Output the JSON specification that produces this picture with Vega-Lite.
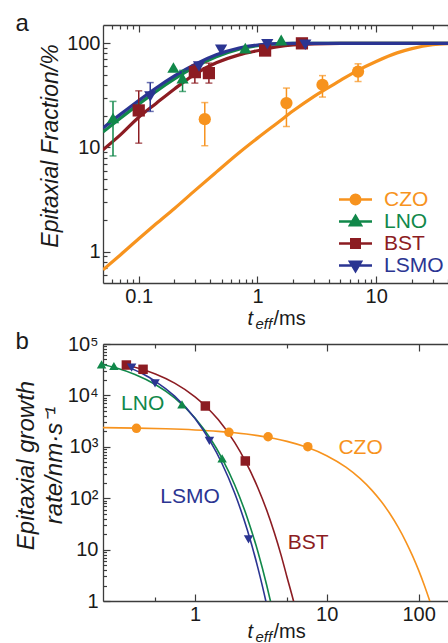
{
"$schema": "https://vega.github.io/schema/vega-lite/v6.json",
"background": "white",
"padding": {"left": 13, "top": 11, "right": 0, "bottom": 0},
"spacing": -2,
"config": {
  "view": {"stroke": null},
  "font": "Liberation Sans",
  "axis": {"grid": false, "domainColor": "#3c3c3c", "tickColor": "#3c3c3c", "domainWidth": 1.3, "tickWidth": 1.2, "labelFont": "Liberation Sans", "labelFontSize": 20, "labelColor": "#1a1a1a", "titleFont": "Liberation Sans", "titleColor": "#1a1a1a", "titleFontWeight": "normal", "labelOverlap": false, "labelFlush": false, "labelBound": false}
},
"resolve": {"scale": {"color": "independent", "shape": "independent"}, "legend": {"color": "independent", "shape": "independent"}},
"datasets": {
  "curvesA": [
    {"s":"CZO","t":0.05,"f":0.67},{"s":"CZO","t":0.07,"f":0.93},{"s":"CZO","t":0.1,"f":1.33},{"s":"CZO","t":0.14,"f":1.85},{"s":"CZO","t":0.2,"f":2.6},{"s":"CZO","t":0.3,"f":3.9},{"s":"CZO","t":0.45,"f":5.8},{"s":"CZO","t":0.7,"f":8.9},{"s":"CZO","t":1,"f":12.3},{"s":"CZO","t":1.5,"f":17.5},{"s":"CZO","t":2,"f":22.5},{"s":"CZO","t":3,"f":31},{"s":"CZO","t":5,"f":44},{"s":"CZO","t":7,"f":55},{"s":"CZO","t":10,"f":67},{"s":"CZO","t":15,"f":81},{"s":"CZO","t":20,"f":89},{"s":"CZO","t":30,"f":97},{"s":"CZO","t":42.7,"f":99.5},
    {"s":"BST","t":0.05,"f":9.5},{"s":"BST","t":0.07,"f":13.2},{"s":"BST","t":0.1,"f":19.5},{"s":"BST","t":0.14,"f":26.5},{"s":"BST","t":0.2,"f":36.5},{"s":"BST","t":0.3,"f":51},{"s":"BST","t":0.45,"f":65},{"s":"BST","t":0.7,"f":77.5},{"s":"BST","t":1,"f":85},{"s":"BST","t":1.5,"f":93},{"s":"BST","t":2,"f":96.5},{"s":"BST","t":3,"f":99},{"s":"BST","t":5,"f":99.9},{"s":"BST","t":10,"f":100},{"s":"BST","t":42.7,"f":100},
    {"s":"LNO","t":0.05,"f":14.1},{"s":"LNO","t":0.07,"f":19.1},{"s":"LNO","t":0.1,"f":26.1},{"s":"LNO","t":0.14,"f":34.6},{"s":"LNO","t":0.2,"f":45.5},{"s":"LNO","t":0.3,"f":59.7},{"s":"LNO","t":0.45,"f":74.4},{"s":"LNO","t":0.7,"f":88},{"s":"LNO","t":1,"f":95.2},{"s":"LNO","t":1.5,"f":98.9},{"s":"LNO","t":2,"f":99.8},{"s":"LNO","t":3,"f":100},{"s":"LNO","t":42.7,"f":100},
    {"s":"LSMO","t":0.05,"f":15.4},{"s":"LSMO","t":0.07,"f":20.8},{"s":"LSMO","t":0.1,"f":28.3},{"s":"LSMO","t":0.14,"f":37.3},{"s":"LSMO","t":0.2,"f":48.7},{"s":"LSMO","t":0.3,"f":63.2},{"s":"LSMO","t":0.45,"f":77.7},{"s":"LSMO","t":0.7,"f":90.3},{"s":"LSMO","t":1,"f":96.4},{"s":"LSMO","t":1.5,"f":99.3},{"s":"LSMO","t":2,"f":99.9},{"s":"LSMO","t":3,"f":100},{"s":"LSMO","t":42.7,"f":100}
  ],
  "pointsA": [
    {"s":"CZO","t":0.36,"f":18.7},{"s":"CZO","t":1.755,"f":26.7},{"s":"CZO","t":3.53,"f":40},{"s":"CZO","t":7.04,"f":53.6},
    {"s":"BST","t":0.1,"f":22.7},{"s":"BST","t":0.297,"f":52.9},{"s":"BST","t":0.39,"f":51.8},{"s":"BST","t":1.16,"f":85.3},{"s":"BST","t":2.37,"f":100},
    {"s":"LNO","t":0.0607,"f":19.2},{"s":"LNO","t":0.196,"f":58.6},{"s":"LNO","t":0.234,"f":46.4},{"s":"LNO","t":0.79,"f":89.9},{"s":"LNO","t":1.585,"f":108},
    {"s":"LSMO","t":0.125,"f":30.9},{"s":"LSMO","t":0.322,"f":59.9},{"s":"LSMO","t":0.494,"f":86.6},{"s":"LSMO","t":1.21,"f":98},{"s":"LSMO","t":2.53,"f":97}
  ],
  "errA": [
    {"s":"CZO","t":0.36,"lo":10.4,"hi":27},{"s":"CZO","t":1.755,"lo":15.9,"hi":37.2},{"s":"CZO","t":3.53,"lo":30.5,"hi":49},{"s":"CZO","t":7.04,"lo":43,"hi":63.6},
    {"s":"BST","t":0.1,"lo":11,"hi":35},{"s":"BST","t":0.297,"lo":41.5,"hi":62},{"s":"BST","t":0.39,"lo":41.5,"hi":64.6},
    {"s":"LNO","t":0.0607,"lo":8.3,"hi":27.7},{"s":"LNO","t":0.234,"lo":34.5,"hi":55},
    {"s":"LSMO","t":0.125,"lo":22.2,"hi":42}
  ],
  "curvesB": [
    {"s":"CZO","t":0.2,"r":2360},{"s":"CZO","t":0.36,"r":2312},{"s":"CZO","t":0.6,"r":2243},{"s":"CZO","t":1,"r":2128},{"s":"CZO","t":1.5,"r":1995},{"s":"CZO","t":2,"r":1871},{"s":"CZO","t":3,"r":1648},{"s":"CZO","t":4,"r":1449},{"s":"CZO","t":5,"r":1274},{"s":"CZO","t":7,"r":986},{"s":"CZO","t":10,"r":670},{"s":"CZO","t":14,"r":401},{"s":"CZO","t":18,"r":240},{"s":"CZO","t":22,"r":143.5},{"s":"CZO","t":26,"r":85.9},{"s":"CZO","t":30,"r":51.4},{"s":"CZO","t":35,"r":27},{"s":"CZO","t":40,"r":14.2},{"s":"CZO","t":45,"r":7.48},{"s":"CZO","t":50,"r":3.94},{"s":"CZO","t":55,"r":2.07},{"s":"CZO","t":60,"r":1.09},{"s":"CZO","t":62,"r":0.84},
    {"s":"BST","t":0.28,"r":40700},{"s":"BST","t":0.3,"r":39100},{"s":"BST","t":0.4,"r":31900},{"s":"BST","t":0.5,"r":26000},{"s":"BST","t":0.7,"r":17300},{"s":"BST","t":1,"r":9380},{"s":"BST","t":1.2,"r":6230},{"s":"BST","t":1.5,"r":3380},{"s":"BST","t":2,"r":1217},{"s":"BST","t":2.4,"r":538},{"s":"BST","t":3,"r":160},{"s":"BST","t":3.5,"r":59},{"s":"BST","t":4,"r":21.5},{"s":"BST","t":4.5,"r":7.9},{"s":"BST","t":5,"r":2.9},{"s":"BST","t":5.6,"r":1},{"s":"BST","t":5.8,"r":0.7},
    {"s":"LNO","t":0.195,"r":40600},{"s":"LNO","t":0.25,"r":34400},{"s":"LNO","t":0.35,"r":25500},{"s":"LNO","t":0.5,"r":16300},{"s":"LNO","t":0.7,"r":8950},{"s":"LNO","t":1,"r":3650},{"s":"LNO","t":1.3,"r":1486},{"s":"LNO","t":1.6,"r":605},{"s":"LNO","t":2,"r":183},{"s":"LNO","t":2.5,"r":40.9},{"s":"LNO","t":3,"r":9.16},{"s":"LNO","t":3.5,"r":2.05},{"s":"LNO","t":3.74,"r":1},{"s":"LNO","t":3.9,"r":0.62},
    {"s":"LSMO","t":0.28,"r":39300},{"s":"LSMO","t":0.33,"r":33200},{"s":"LSMO","t":0.4,"r":26300},{"s":"LSMO","t":0.5,"r":18800},{"s":"LSMO","t":0.7,"r":9660},{"s":"LSMO","t":1,"r":3550},{"s":"LSMO","t":1.3,"r":1300},{"s":"LSMO","t":1.6,"r":479},{"s":"LSMO","t":2,"r":126},{"s":"LSMO","t":2.5,"r":23.7},{"s":"LSMO","t":3,"r":4.47},{"s":"LSMO","t":3.45,"r":1},{"s":"LSMO","t":3.6,"r":0.6}
  ],
  "pointsB": [
    {"s":"CZO","t":0.359,"r":2290},{"s":"CZO","t":1.81,"r":1915},{"s":"CZO","t":3.59,"r":1570},{"s":"CZO","t":7.19,"r":1005},
    {"s":"BST","t":0.301,"r":39000},{"s":"BST","t":0.403,"r":32200},{"s":"BST","t":1.198,"r":6220},{"s":"BST","t":2.41,"r":530},
    {"s":"LNO","t":0.195,"r":40300},{"s":"LNO","t":0.242,"r":37300},{"s":"LNO","t":0.796,"r":6710},{"s":"LNO","t":1.607,"r":597},
    {"s":"LSMO","t":0.33,"r":34600},{"s":"LSMO","t":0.497,"r":17200},{"s":"LSMO","t":1.286,"r":1300},{"s":"LSMO","t":2.55,"r":15.8}
  ],
  "labelsB": [
    {"s":"LNO","t":0.4,"r":6860,"label":"LNO"},
    {"s":"CZO","t":18.1,"r":935,"label":"CZO"},
    {"s":"LSMO","t":0.916,"r":107,"label":"LSMO"},
    {"s":"BST","t":7.23,"r":13.2,"label":"BST"}
  ]
},
"vconcat": [
  {
    "width": 348, "height": 258,
    "resolve": {"axis": {"x": "independent", "y": "independent"}, "legend": {"color": "independent", "shape": "independent"}},
    "layer": [
      {
        "data": {"name": "curvesA"},
        "mark": {"type": "line", "strokeWidth": 3.2, "interpolate": "monotone", "clip": true},
        "encoding": {
          "x": {"field": "t", "type": "quantitative", "scale": {"type": "log", "domain": [0.05, 42.7], "nice": false},
                "axis": {"orient": "bottom", "values": [0.1, 1, 10], "tickSize": -7, "labelPadding": 10, "labelExpr": "format(datum.value,'~g')", "title": "t", "titleFontSize": 20, "titleFontStyle": "italic", "titleAlign": "left", "titleBaseline": "alphabetic", "titleX": 144, "titleY": 41}},
          "y": {"field": "f", "type": "quantitative", "scale": {"type": "log", "domain": [0.5, 150], "nice": false},
                "axis": {"orient": "left", "values": [1, 10, 100], "tickSize": -7, "labelPadding": 10, "labelExpr": "format(datum.value,'~g')", "title": "Epitaxial Fraction/%", "titleFontSize": 23, "titleFontStyle": "italic", "titleAngle": -90, "titleAlign": "center", "titleBaseline": "alphabetic", "titleX": -46, "titleY": 120.5}},
          "color": {"field": "s", "type": "nominal", "scale": {"domain": ["CZO","LNO","BST","LSMO"], "range": ["#F7931E","#11884A","#8C1C22","#2B3592"]}, "legend": null}
        }
      },
      {
        "data": {"name": "errA"},
        "mark": {"type": "rule", "strokeWidth": 1.5},
        "encoding": {
          "x": {"field": "t", "type": "quantitative", "scale": {"type": "log", "domain": [0.05, 42.7], "nice": false},
                "axis": {"orient": "bottom", "values": [0.06,0.07,0.08,0.09,0.2,0.3,0.4,0.5,0.6,0.7,0.8,0.9,2,3,4,5,6,7,8,9,20,30,40], "tickSize": -4, "labels": false, "domain": false, "title": "eff", "titleFontSize": 15, "titleFontStyle": "italic", "titleAlign": "left", "titleBaseline": "alphabetic", "titleX": 152, "titleY": 45}},
          "y": {"field": "lo", "type": "quantitative", "scale": {"type": "log", "domain": [0.5, 150], "nice": false},
                "axis": {"orient": "left", "values": [0.6,0.7,0.8,0.9,2,3,4,5,6,7,8,9,20,30,40,50,60,70,80,90], "tickSize": -4, "labels": false, "domain": false, "title": null}},
          "y2": {"field": "hi"},
          "color": {"field": "s", "type": "nominal", "scale": {"domain": ["CZO","LNO","BST","LSMO"], "range": ["#F7931E","#11884A","#8C1C22","#2B3592"]}, "legend": null}
        }
      },
      {
        "data": {"name": "errA"},
        "mark": {"type": "tick", "orient": "horizontal", "size": 7, "thickness": 1.5},
        "encoding": {
          "x": {"field": "t", "type": "quantitative", "scale": {"type": "log", "domain": [0.05, 42.7], "nice": false},
                "axis": {"orient": "top", "values": [0.1, 1, 10], "tickSize": -7, "labels": false, "title": null}},
          "y": {"field": "lo", "type": "quantitative", "scale": {"type": "log", "domain": [0.5, 150], "nice": false},
                "axis": {"orient": "left", "ticks": false, "labels": false, "domain": false, "title": "a", "titleAngle": 0, "titleFontSize": 24, "titleFontStyle": "normal", "titleAlign": "left", "titleBaseline": "alphabetic", "titleX": -88, "titleY": 5}},
          "color": {"field": "s", "type": "nominal", "scale": {"domain": ["CZO","LNO","BST","LSMO"], "range": ["#F7931E","#11884A","#8C1C22","#2B3592"]}, "legend": null}
        }
      },
      {
        "data": {"name": "errA"},
        "mark": {"type": "tick", "orient": "horizontal", "size": 7, "thickness": 1.5},
        "encoding": {
          "x": {"field": "t", "type": "quantitative", "scale": {"type": "log", "domain": [0.05, 42.7], "nice": false},
                "axis": {"orient": "top", "values": [0.06,0.07,0.08,0.09,0.2,0.3,0.4,0.5,0.6,0.7,0.8,0.9,2,3,4,5,6,7,8,9,20,30,40], "tickSize": -4, "labels": false, "domain": false, "title": null}},
          "y": {"field": "hi", "type": "quantitative", "scale": {"type": "log", "domain": [0.5, 150], "nice": false}, "axis": null},
          "color": {"field": "s", "type": "nominal", "scale": {"domain": ["CZO","LNO","BST","LSMO"], "range": ["#F7931E","#11884A","#8C1C22","#2B3592"]}, "legend": null}
        }
      },
      {
        "data": {"name": "pointsA"},
        "mark": {"type": "point", "filled": true, "size": 150, "opacity": 1},
        "encoding": {
          "x": {"field": "t", "type": "quantitative", "scale": {"type": "log", "domain": [0.05, 42.7], "nice": false},
                "axis": {"orient": "bottom", "ticks": false, "labels": false, "domain": false, "title": "/ms", "titleFontSize": 20, "titleAlign": "left", "titleBaseline": "alphabetic", "titleX": 170, "titleY": 41}},
          "y": {"field": "f", "type": "quantitative", "scale": {"type": "log", "domain": [0.5, 150], "nice": false}, "axis": null},
          "shape": {"field": "s", "type": "nominal", "scale": {"range": ["square","circle","triangle-up","triangle-down"]}, "legend": null},
          "color": {"field": "s", "type": "nominal", "scale": {"domain": ["CZO","LNO","BST","LSMO"], "range": ["#F7931E","#11884A","#8C1C22","#2B3592"]},
                    "legend": {"orient": "none", "legendX": 242, "legendY": 164, "title": null, "padding": 0, "symbolSize": 100, "rowPadding": 0, "labelOffset": 18, "labelFont": "Liberation Sans", "labelFontSize": 21, "labelLimit": 200,
                      "symbolType": {"expr": "datum.value === 'CZO' ? 'M-3.3,0H3.3M0.95,0A0.95,0.95,0,1,1,-0.95,0A0.95,0.95,0,1,1,0.95,0Z' : datum.value === 'LNO' ? 'M-3.3,0H3.3M0,-1.1L1.1,0.75L-1.1,0.75Z' : datum.value === 'BST' ? 'M-3.3,0H3.3M-0.85,-0.85H0.85V0.85H-0.85Z' : 'M-3.3,0H3.3M0,1.1L1.1,-0.75L-1.1,-0.75Z'"},
                      "symbolStrokeColor": {"expr": "datum.value === 'CZO' ? '#F7931E' : datum.value === 'LNO' ? '#11884A' : datum.value === 'BST' ? '#8C1C22' : '#2B3592'"},
                      "symbolStrokeWidth": 2.5,
                      "symbolOpacity": 1,
                      "labelColor": {"expr": "datum.value === 'CZO' ? '#F7931E' : datum.value === 'LNO' ? '#11884A' : datum.value === 'BST' ? '#8C1C22' : '#2B3592'"}
                    }}
        }
      }
    ]
  },
  {
    "width": 348, "height": 257,
    "resolve": {"axis": {"x": "independent", "y": "independent"}},
    "layer": [
      {
        "data": {"name": "curvesB"},
        "mark": {"type": "line", "strokeWidth": 1.6, "interpolate": "monotone", "clip": true},
        "encoding": {
          "x": {"field": "t", "type": "quantitative", "scale": {"type": "log", "domain": [0.2, 88], "nice": false},
                "axis": {"orient": "bottom", "values": [1, 10, 50], "tickSize": -7, "labelPadding": 10, "labelExpr": "datum.value == 50 ? '100' : format(datum.value,'~g')", "title": "t", "titleFontSize": 20, "titleFontStyle": "italic", "titleAlign": "left", "titleBaseline": "alphabetic", "titleX": 144, "titleY": 36}},
          "y": {"field": "r", "type": "quantitative", "scale": {"type": "log", "domain": [1, 100000], "nice": false},
                "axis": {"orient": "left", "values": [1, 10, 100, 1000, 10000, 100000], "tickSize": -7, "labelPadding": 12, "labelExpr": "datum.value >= 100000 ? '10⁵' : datum.value >= 10000 ? '10⁴' : datum.value >= 1000 ? '10³' : datum.value >= 100 ? '10²' : datum.value >= 10 ? '10' : '1'", "title": ["Epitaxial growth", "rate/nm·s⁻¹"], "titleFontSize": 24, "titleLineHeight": 28, "titleFontStyle": "italic", "titleAngle": -90, "titleAlign": "center", "titleBaseline": "alphabetic", "titleX": -70, "titleY": 121}},
          "color": {"field": "s", "type": "nominal", "scale": {"domain": ["CZO","LNO","BST","LSMO"], "range": ["#F7931E","#11884A","#8C1C22","#2B3592"]}, "legend": null}
        }
      },
      {
        "data": {"name": "pointsB"},
        "mark": {"type": "point", "filled": true, "size": 90, "opacity": 1},
        "encoding": {
          "x": {"field": "t", "type": "quantitative", "scale": {"type": "log", "domain": [0.2, 88], "nice": false},
                "axis": {"orient": "bottom", "values": [0.5, 5], "tickSize": -4, "labels": false, "domain": false, "title": "eff", "titleFontSize": 15, "titleFontStyle": "italic", "titleAlign": "left", "titleBaseline": "alphabetic", "titleX": 152, "titleY": 40}},
          "y": {"field": "r", "type": "quantitative", "scale": {"type": "log", "domain": [1, 100000], "nice": false},
                "axis": {"orient": "left", "values": [2,3,4,5,6,7,8,9,20,30,40,50,60,70,80,90,200,300,400,500,600,700,800,900,2000,3000,4000,5000,6000,7000,8000,9000,20000,30000,40000,50000,60000,70000,80000,90000], "tickSize": -3.5, "labels": false, "domain": false, "title": null}},
          "shape": {"field": "s", "type": "nominal", "scale": {"range": ["square","circle","triangle-up","triangle-down"]}, "legend": null},
          "color": {"field": "s", "type": "nominal", "scale": {"domain": ["CZO","LNO","BST","LSMO"], "range": ["#F7931E","#11884A","#8C1C22","#2B3592"]}, "legend": null}
        }
      },
      {
        "data": {"name": "labelsB"},
        "mark": {"type": "text", "font": "Liberation Sans", "fontSize": 21, "align": "center", "baseline": "middle"},
        "encoding": {
          "x": {"field": "t", "type": "quantitative", "scale": {"type": "log", "domain": [0.2, 88], "nice": false},
                "axis": {"orient": "top", "values": [1, 10, 50], "tickSize": -7, "labels": false, "title": null}},
          "y": {"field": "r", "type": "quantitative", "scale": {"type": "log", "domain": [1, 100000], "nice": false},
                "axis": {"orient": "left", "ticks": false, "labels": false, "domain": false, "title": "b", "titleAngle": 0, "titleFontSize": 24, "titleFontStyle": "normal", "titleAlign": "left", "titleBaseline": "alphabetic", "titleX": -88, "titleY": 4}},
          "text": {"field": "label"},
          "color": {"field": "s", "type": "nominal", "scale": {"domain": ["CZO","LNO","BST","LSMO"], "range": ["#F7931E","#11884A","#8C1C22","#2B3592"]}, "legend": null}
        }
      },
      {
        "data": {"name": "pointsB"},
        "mark": {"type": "point", "opacity": 0},
        "encoding": {
          "x": {"field": "t", "type": "quantitative", "scale": {"type": "log", "domain": [0.2, 88], "nice": false},
                "axis": {"orient": "top", "values": [0.5, 5], "tickSize": -4, "labels": false, "domain": false, "title": null}},
          "y": {"field": "r", "type": "quantitative", "scale": {"type": "log", "domain": [1, 100000], "nice": false}, "axis": null}
        }
      },
      {
        "data": {"name": "pointsB"},
        "mark": {"type": "point", "opacity": 0},
        "encoding": {
          "x": {"field": "t", "type": "quantitative", "scale": {"type": "log", "domain": [0.2, 88], "nice": false},
                "axis": {"orient": "bottom", "ticks": false, "labels": false, "domain": false, "title": "/ms", "titleFontSize": 20, "titleAlign": "left", "titleBaseline": "alphabetic", "titleX": 170, "titleY": 36}},
          "y": {"field": "r", "type": "quantitative", "scale": {"type": "log", "domain": [1, 100000], "nice": false}, "axis": null}
        }
      }
    ]
  }
]
}
